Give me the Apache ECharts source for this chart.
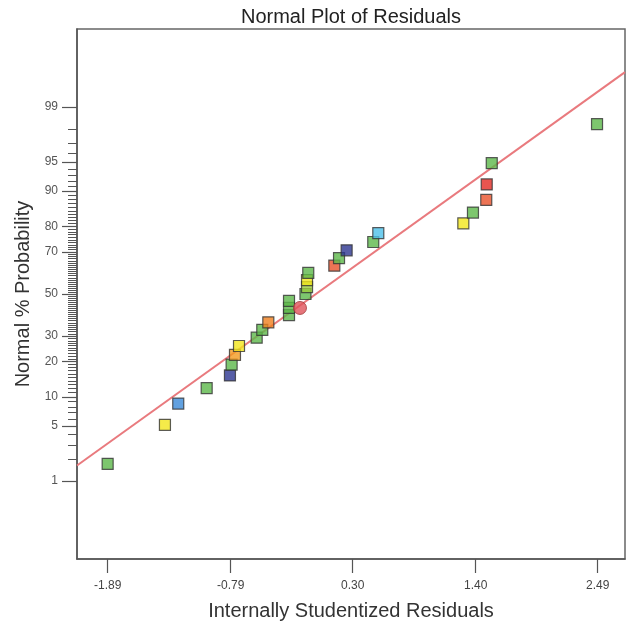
<!DOCTYPE html>
<html>
<head>
<meta charset="utf-8">
<script src="https://cdn.jsdelivr.net/npm/echarts@6/dist/echarts.min.js"></script>
<style>
html,body{margin:0;padding:0;background:#fff;}
#chart{width:626px;height:627px;}
</style>
</head>
<body>
<div id="chart"></div>
<script>
// ---- data ----
const residuals = [-1.89, -1.378, -1.259, -1.005, -0.797, -0.782, -0.752, -0.716, -0.558, -0.508, -0.454,
  -0.269, -0.269, -0.269, -0.122, -0.108, -0.108, -0.097, 0.136, 0.178, 0.246, 0.484, 0.529,
  1.289, 1.375, 1.494, 1.498, 1.543, 2.484];
const probabilities = [1.72, 5.17, 8.62, 12.07, 15.52, 18.97, 22.41, 25.86, 29.31, 32.76, 36.21,
  39.66, 43.10, 46.55, 50.00, 53.45, 56.90, 60.34, 63.79, 67.24, 70.69, 74.14, 77.59,
  81.03, 84.48, 87.93, 91.38, 94.83, 98.28];
const pointColors = ['#5db84a', '#f2e61b', '#3a8ad8', '#5db84a', '#2d3691', '#5db84a', '#f39a1f', '#f2e61b', '#5db84a', '#5db84a', '#f07f1e',
  '#5db84a', '#5db84a', '#5db84a', '#5db84a', '#9ccc3c', '#f2e61b', '#5db84a', '#e8512a', '#5db84a', '#2d3691', '#5db84a', '#4cc0ea',
  '#f2e61b', '#5db84a', '#e8512a', '#e42a23', '#5db84a', '#5db84a'];
const centerResiduals = [-0.171];
const centerProbabilities = [43.10];
const fitLineResiduals = [-2.164, 2.734];
const fitLineProbabilities = [1.634, 99.713];
const yTickLabels = [1, 5, 10, 20, 30, 50, 70, 80, 90, 95, 99];
const yMinorTicks = Array.from({length: 99}, (_, i) => i + 1);
const xTickLabels = [-1.89, -0.79, 0.30, 1.40, 2.49];

// ---- normal probability scale (probit) ----
function probit(pct) {
  const p = pct / 100;
  const a = [-3.969683028665376e+01, 2.209460984245205e+02, -2.759285104469687e+02, 1.383577518672690e+02, -3.066479806614716e+01, 2.506628277459239e+00];
  const b = [-5.447609879822406e+01, 1.615858368580409e+02, -1.556989798598866e+02, 6.680131188771972e+01, -1.328068155288572e+01];
  const c = [-7.784894002430293e-03, -3.223964580411365e-01, -2.400758277161838e+00, -2.549732539343734e+00, 4.374664141464968e+00, 2.938163982698783e+00];
  const d = [7.784695709041462e-03, 3.224671290700398e-01, 2.445134137142996e+00, 3.754408661907416e+00];
  const pl = 0.02425, ph = 1 - pl;
  let q, r;
  if (p < pl) {
    q = Math.sqrt(-2 * Math.log(p));
    return (((((c[0]*q+c[1])*q+c[2])*q+c[3])*q+c[4])*q+c[5]) / ((((d[0]*q+d[1])*q+d[2])*q+d[3])*q+1);
  } else if (p <= ph) {
    q = p - 0.5; r = q * q;
    return (((((a[0]*r+a[1])*r+a[2])*r+a[3])*r+a[4])*r+a[5])*q / (((((b[0]*r+b[1])*r+b[2])*r+b[3])*r+b[4])*r+1);
  } else {
    q = Math.sqrt(-2 * Math.log(1 - p));
    return -(((((c[0]*q+c[1])*q+c[2])*q+c[3])*q+c[4])*q+c[5]) / ((((d[0]*q+d[1])*q+d[2])*q+d[3])*q+1);
  }
}
const yMajorZ = yTickLabels.map(probit);
const yMinorZ = yMinorTicks.map(probit);
function labelForZ(v) {
  let best = 0, bd = Infinity;
  yMajorZ.forEach((z, i) => { const dd = Math.abs(z - v); if (dd < bd) { bd = dd; best = i; } });
  return String(yTickLabels[best]);
}

const pointData = residuals.map((x, i) => ({
  value: [x, probit(probabilities[i])],
  itemStyle: { color: pointColors[i] }
}));
const centerData = centerResiduals.map((x, i) => [x, probit(centerProbabilities[i])]);
const lineData = fitLineResiduals.map((x, i) => [x, probit(fitLineProbabilities[i])]);

const FONT = '"Liberation Sans", Arial, sans-serif';
const chart = echarts.init(document.getElementById('chart'), null, { renderer: 'canvas' });
chart.setOption({
  animation: false,
  backgroundColor: '#fff',
  title: {
    text: 'Normal Plot of Residuals',
    left: 346, top: 2, textAlign: 'center',
    textStyle: { fontFamily: FONT, fontSize: 20, fontWeight: 'normal', color: '#222' }
  },
  grid: {
    left: 77, top: 29, right: 1, bottom: 68,
    show: true, borderColor: '#666', borderWidth: 1.5
  },
  xAxis: {
    type: 'value', min: -2.164, max: 2.734,
    name: 'Internally Studentized Residuals', nameLocation: 'middle', nameGap: 42,
    nameTextStyle: { fontFamily: FONT, fontSize: 20, color: '#333' },
    axisLine: { show: true, onZero: false, lineStyle: { color: '#555', width: 1.5 } },
    axisTick: { show: true, length: 14, customValues: xTickLabels, lineStyle: { color: '#555', width: 1.2 } },
    axisLabel: { customValues: xTickLabels, margin: 21, fontFamily: FONT, fontSize: 12, color: '#444',
      formatter: v => v.toFixed(2) },
    splitLine: { show: false }
  },
  yAxis: [{
    type: 'value', min: -3.3, max: 3.3, position: 'left',
    name: 'Normal % Probability', nameLocation: 'middle', nameGap: 40,
    nameTextStyle: { fontFamily: FONT, fontSize: 20, color: '#333' },
    axisLine: { show: true, onZero: false, lineStyle: { color: '#555', width: 1.5 } },
    axisTick: { show: true, length: 15, customValues: yMajorZ, lineStyle: { color: '#555', width: 1.2 } },
    axisLabel: { customValues: yMajorZ, margin: 19, fontFamily: FONT, fontSize: 12, color: '#555',
      formatter: v => labelForZ(v) },
    splitLine: { show: false }
  }, {
    type: 'value', min: -3.3, max: 3.3, position: 'left', offset: 0,
    axisLine: { show: false, onZero: false },
    axisTick: { show: true, length: 9, customValues: yMinorZ, lineStyle: { color: '#555', width: 1 } },
    axisLabel: { show: false },
    splitLine: { show: false }
  }],
  series: [{
    type: 'line', data: lineData, yAxisIndex: 0, symbol: 'none', z: 1,
    lineStyle: { color: '#e97a7e', width: 2 }
  }, {
    type: 'scatter', data: pointData, yAxisIndex: 0, symbol: 'rect', symbolSize: 11, z: 3,
    itemStyle: { borderColor: '#333', borderWidth: 1.2 }
  }, {
    type: 'scatter', data: centerData, yAxisIndex: 0, symbol: 'circle', symbolSize: 13, z: 4,
    itemStyle: { color: '#e0525a', borderColor: '#a03a3a', borderWidth: 1 }
  }]
});
</script>
</body>
</html>
